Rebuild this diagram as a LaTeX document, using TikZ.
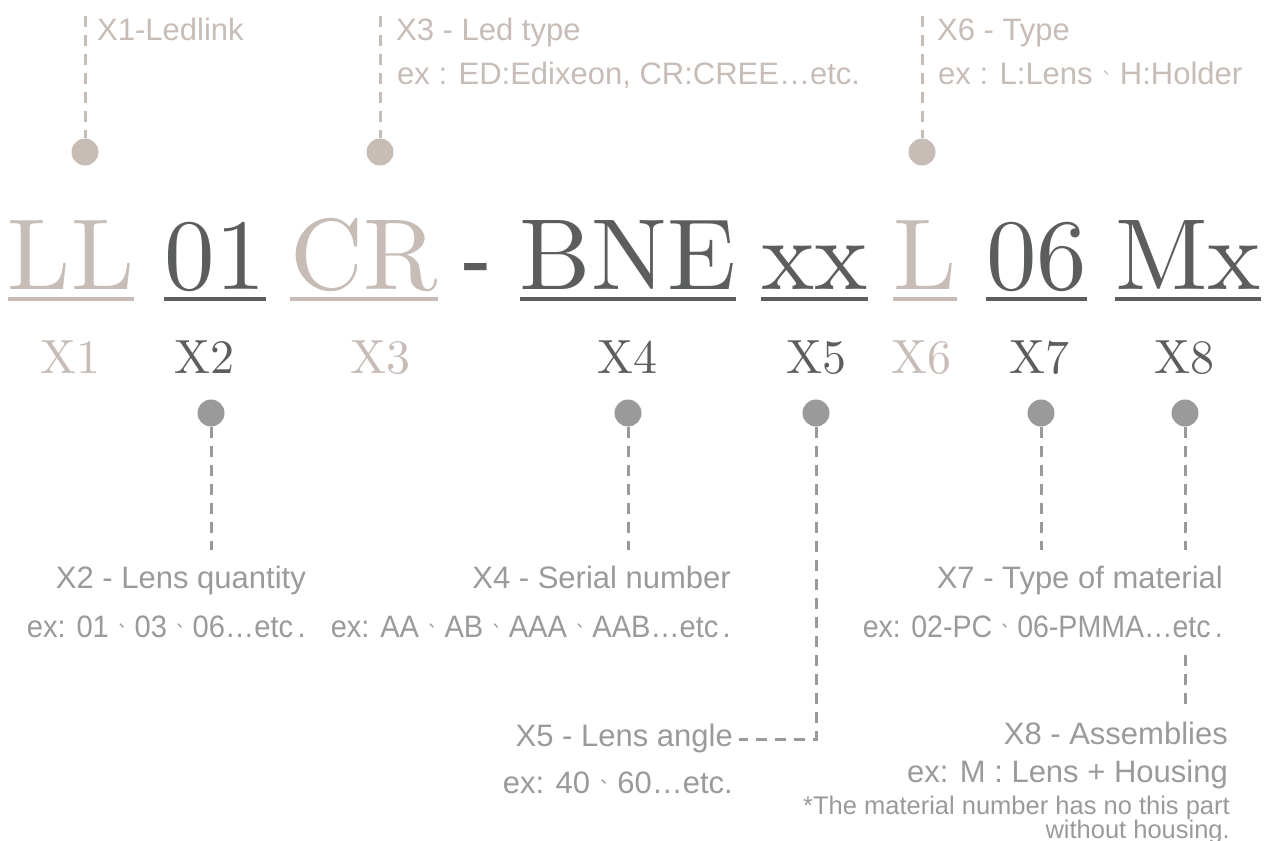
\documentclass[tikz,border=0pt]{standalone}
\usepackage{fontspec}
\usepackage{graphicx}
\newfontfamily\labfont{Liberation Sans}
\newfontfamily\cjk{Noto Sans CJK SC}
\newfontfamily\codefont{lmroman10-regular}[Extension=.otf]
\definecolor{beige}{HTML}{C7BCB6}
\definecolor{dark}{HTML}{5C5E5D}
\definecolor{mid}{HTML}{9A9A9A}
\newcommand\dun{\hspace{0.33em}\raisebox{0.3em}{\cjk\fontsize{17}{17}\selectfont 、}}
\begin{document}
\begin{tikzpicture}[x=1pt,y=-1pt,
  code/.style={font=\codefont\fontsize{101}{101}\selectfont, inner sep=0pt, anchor=base},
  idx/.style={font=\codefont\fontsize{48}{48}\selectfont, inner sep=0pt, anchor=base},
  lab/.style={font=\labfont\fontsize{31}{31}\selectfont, inner sep=0pt},
  sm/.style={font=\labfont\fontsize{25.5}{25}\selectfont, inner sep=0pt},
  dot/.style={circle, fill, minimum size=27pt, inner sep=0pt},
  dl/.style={line width=3pt, dash pattern=on 11pt off 8pt},
  ul/.style={line width=4pt}]
\useasboundingbox (0,0) rectangle (1267,841);
% code
\node[code, beige] (c1) at (71,289) {LL};
\node[code, dark] (c2) at (215,289) {01};
\node[code, beige] (c3) at (364,289) {CR};
\node[font=\labfont\fontsize{92}{92}\selectfont, dark, inner sep=0pt, anchor=base] (hy) at (476,291) {-};
\node[code, dark] (c4) at (628,289) {BNE};
\node[code, dark] (c5) at (814.5,289) {xx};
\node[code, beige] (c6) at (925,289) {L};
\node[code, dark] (c7) at (1036.5,289) {06};
\node[code, dark] (c8) at (1188,289) {Mx};
\foreach \n/\c in {c1/beige,c2/dark,c3/beige,c4/dark,c5/dark,c6/beige,c7/dark,c8/dark}
  \draw[ul,\c] ([yshift=-10pt]\n.base west) -- ([yshift=-10pt]\n.base east);
% index labels
\node[idx, beige] (x1) at (70,373) {X1};
\node[idx, dark] (x2) at (204,373) {X2};
\node[idx, beige] (x3) at (380,373) {X3};
\node[idx, dark] (x4) at (627,373) {X4};
\node[idx, dark] (x5) at (816,373) {X5};
\node[idx, beige] (x6) at (921,373) {X6};
\node[idx, dark] (x7) at (1039,373) {X7};
\node[idx, dark] (x8) at (1184,373) {X8};
% top dots and lines
\node[dot, beige] (t1) at (85,152) {};
\node[dot, beige] (t3) at (380,152) {};
\node[dot, beige] (t6) at (922,152) {};
\coordinate (t1e) at (85,16);
\coordinate (t3e) at (380,16);
\coordinate (t6e) at (922,16);
\draw[dl, beige] (t1e) -- (t1.north);
\draw[dl, beige] (t3e) -- (t3.north);
\draw[dl, beige] (t6e) -- (t6.north);
% top texts
\node[lab, beige, anchor=base west] (lt1) at (97,40) {X1-Ledlink};
\node[lab, beige, anchor=base west] (lt3a) at (396,40) {X3 - Led type};
\node[lab, beige, anchor=base west] (lt3b) at (397,84) {ex : ED:Edixeon, CR:CREE…etc.};
\node[lab, beige, anchor=base west] (lt6a) at (937,40) {X6 - Type};
\node[lab, beige, anchor=base west] (lt6b) at (938,84) {ex : L:Lens\dun H:Holder};
% bottom dots
\node[dot, mid] (b2) at (211,413) {};
\node[dot, mid] (b4) at (628,413) {};
\node[dot, mid] (b5) at (816,413) {};
\node[dot, mid] (b7) at (1041,413) {};
\node[dot, mid] (b8) at (1185,413) {};
\coordinate (b2e) at (211,550);
\coordinate (b4e) at (628,550);
\coordinate (b7e) at (1041,550);
\coordinate (b8e) at (1185,550);
\coordinate (b5e) at (739,739);
\coordinate (m8s) at (1185,655);
\coordinate (m8e) at (1185,708);
\draw[dl, mid] (b2.south) -- (b2e);
\draw[dl, mid] (b4.south) -- (b4e);
\draw[dl, mid] (b7.south) -- (b7e);
\draw[dl, mid] (b8.south) -- (b8e);
\draw[dl, mid] (b5.south) |- (b5e);
\draw[dl, mid] (m8s) -- (m8e);
% bottom texts
\node[lab, mid, anchor=base east] (l2a) at (306,588) {X2 - Lens quantity};
\node[lab, mid, anchor=base east] (l2b) at (306,637) {\resizebox{279pt}{\height}{ex: 01\dun 03\dun 06…etc\kern0.15em.}};
\node[lab, mid, anchor=base east] (l4a) at (731,588) {X4 - Serial number};
\node[lab, mid, anchor=base east] (l4b) at (731,637) {\resizebox{400pt}{\height}{ex: AA\dun AB\dun AAA\dun AAB…etc\kern0.15em.}};
\node[lab, mid, anchor=base east] (l7a) at (1223,588) {X7 - Type of material};
\node[lab, mid, anchor=base east] (l7b) at (1223,637) {\resizebox{360pt}{\height}{ex: 02-PC\dun 06-PMMA…etc\kern0.15em.}};
\node[lab, mid, anchor=base east] (l5a) at (733,746) {X5 - Lens angle};
\node[lab, mid, anchor=base east] (l5b) at (733,793) {ex: 40\dun 60…etc.};
\node[lab, mid, anchor=base east] (l8a) at (1228,744) {X8 - Assemblies};
\node[lab, mid, anchor=base east] (l8b) at (1228,782) {ex: M : Lens + Housing};
\node[sm, mid, anchor=base east] (l8c) at (1230,814) {*The material number has no this part};
\node[sm, mid, anchor=base east] (l8d) at (1230,838) {without housing.};
\end{tikzpicture}
\end{document}
